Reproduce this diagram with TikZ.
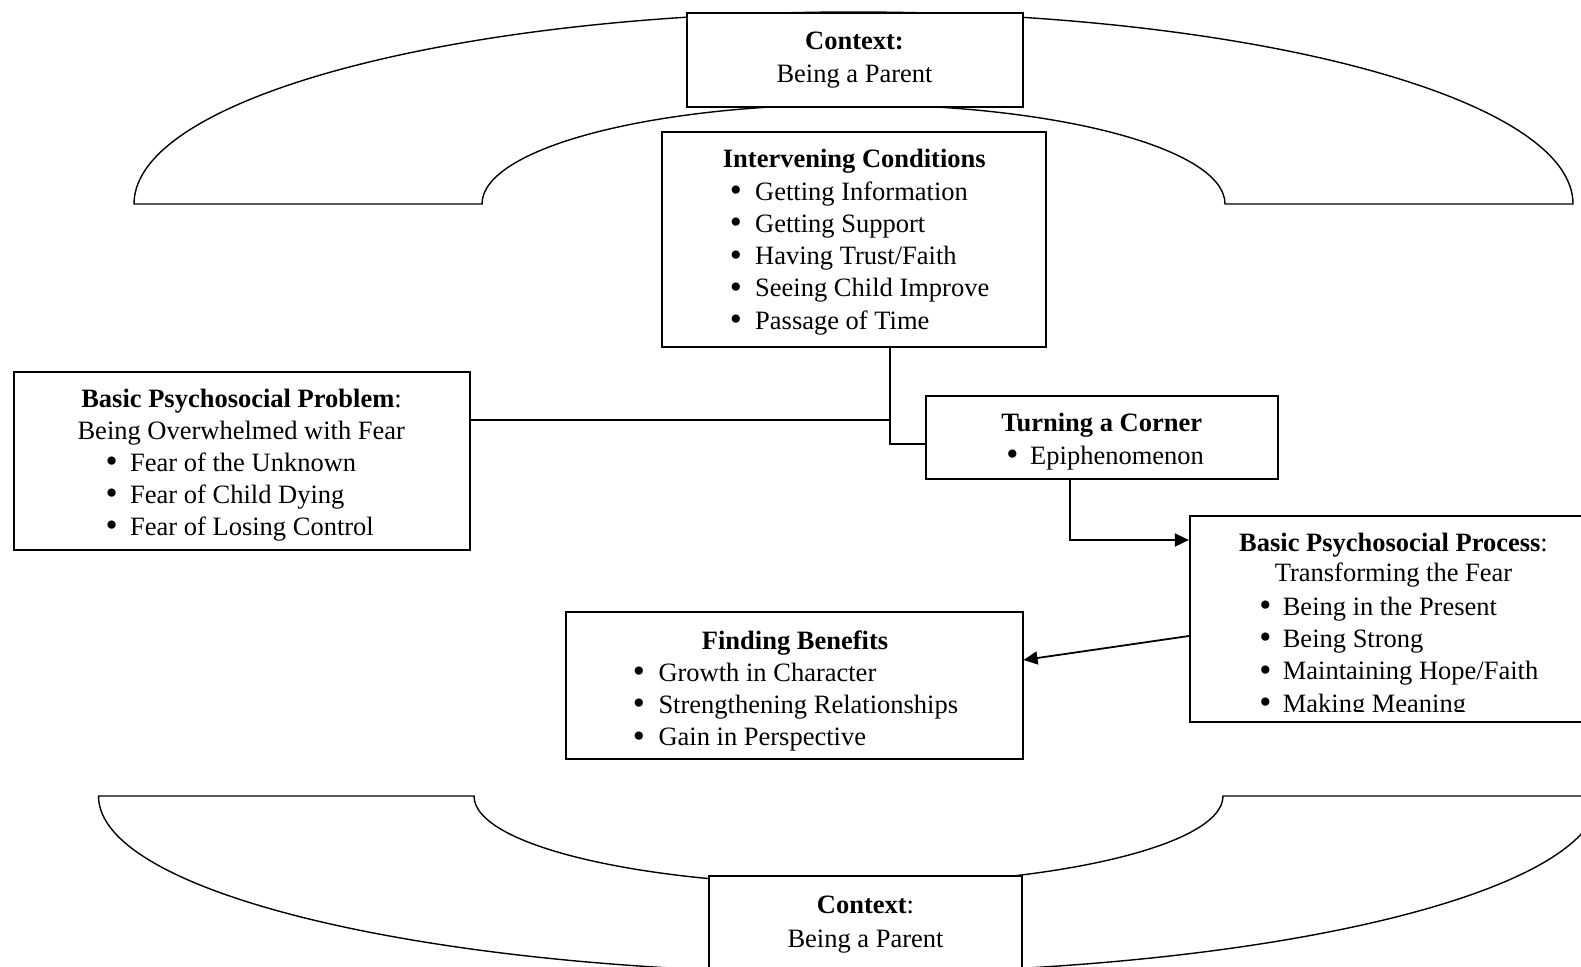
\documentclass[tikz,border=0pt]{standalone}
\usepackage{fontspec}
\setmainfont{Liberation Serif}
\usetikzlibrary{arrows.meta}
\newcommand{\bigbul}{\smash{\raisebox{-1.5pt}{\scalebox{1.3}{\textbullet}}}}
\begin{document}
\begin{tikzpicture}[x=1pt,y=-1pt,
  font=\fontsize{26.5}{32}\selectfont,
  box/.style={draw, line width=1.8pt, fill=white, rectangle, inner sep=0pt},
  lbl/.style={inner sep=0pt, anchor=base},
  itm/.style={inner sep=0pt, anchor=base west},
  conn/.style={line width=1.8pt},
  tip/.style={-{Triangle[length=14pt,width=13pt]}},
  band/.style={line width=1.4pt}]
\useasboundingbox (0,0) rectangle (1581,966);
\clip (0,0) rectangle (1581,966);

% context bands
\draw[band] (134,204) arc[start angle=180, end angle=360, x radius=719.5, y radius=192]
  -- (1225,204) arc[start angle=0, end angle=-180, x radius=371.5, y radius=99.5] -- cycle;
\draw[band] (98.5,796) arc[start angle=180, end angle=0, x radius=750, y radius=177]
  -- (1223,796) arc[start angle=0, end angle=180, x radius=374.5, y radius=89] -- cycle;

% boxes
\node[box, minimum width=336.3pt, minimum height=93.7pt] (ctxTop) at (854.8,60.2) {};
\node[box, minimum width=383.4pt, minimum height=214.7pt] (ic) at (854,239.7) {};
\node[box, minimum width=456pt, minimum height=177.7pt] (bpp) at (242,461.2) {};
\node[box, minimum width=352.3pt, minimum height=83pt] (tac) at (1102.2,437.5) {};
\node[box, minimum width=405.3pt, minimum height=206pt] (bpproc) at (1392.4,619) {};
\node[box, minimum width=456.7pt, minimum height=146.7pt] (fb) at (794.3,685.7) {};
\node[box, minimum width=313pt, minimum height=114.3pt] (ctxBot) at (865.8,932.8) {};

% top context text
\node[lbl] (ctxTopA) at (854.5,50) {\textbf{Context:}};
\node[lbl] (ctxTopB) at (854.5,82.7) {Being a Parent};

% intervening conditions
\node[lbl] (icT) at (854.3,167.7) {\textbf{Intervening Conditions}};
\node[lbl] (icB1) at (736,200) {\bigbul};
\node[itm] (icI1) at (755,200) {Getting Information};
\node[lbl] (icB2) at (736,232.3) {\bigbul};
\node[itm] (icI2) at (755,232.3) {Getting Support};
\node[lbl] (icB3) at (736,264.6) {\bigbul};
\node[itm] (icI3) at (755,264.6) {Having Trust/Faith};
\node[lbl] (icB4) at (736,296.9) {\bigbul};
\node[itm] (icI4) at (755,296.9) {Seeing Child Improve};
\node[lbl] (icB5) at (736,329.2) {\bigbul};
\node[itm] (icI5) at (755,329.2) {Passage of Time};

% basic psychosocial problem
\node[lbl] (bppT) at (241.5,407.3) {\textbf{Basic Psychosocial Problem}:};
\node[lbl] (bppS) at (241.3,439) {Being Overwhelmed with Fear};
\node[lbl] (bppB1) at (111.7,471) {\bigbul};
\node[itm] (bppI1) at (130,471) {Fear of the Unknown};
\node[lbl] (bppB2) at (111.7,503) {\bigbul};
\node[itm] (bppI2) at (130,503) {Fear of Child Dying};
\node[lbl] (bppB3) at (111.7,535) {\bigbul};
\node[itm] (bppI3) at (130,535) {Fear of Losing Control};

% turning a corner
\node[lbl] (tacT) at (1101.7,431.7) {\textbf{Turning a Corner}};
\node[lbl] (tacB1) at (1012.3,464) {\bigbul};
\node[itm] (tacI1) at (1030,464) {Epiphenomenon};

% basic psychosocial process
\node[lbl] (bprT) at (1393.5,551.7) {\textbf{Basic Psychosocial Process}:};
\node[lbl] (bprS) at (1393.5,581.7) {Transforming the Fear};
\node[lbl] (bprB1) at (1265.5,615) {\bigbul};
\node[itm] (bprI1) at (1282.6,615) {Being in the Present};
\node[lbl] (bprB2) at (1265.5,647.3) {\bigbul};
\node[itm] (bprI2) at (1282.6,647.3) {Being Strong};
\node[lbl] (bprB3) at (1265.5,679.6) {\bigbul};
\node[itm] (bprI3) at (1282.6,679.6) {Maintaining Hope/Faith};
\begin{scope}
\clip (1150,690) rectangle (1600,711);
\node[lbl] (bprB4) at (1265.5,712) {\bigbul};
\node[itm] (bprI4) at (1282.6,712) {Making Meaning};
\end{scope}

% finding benefits
\node[lbl] (fbT) at (795,649.3) {\textbf{Finding Benefits}};
\node[lbl] (fbB1) at (639,681) {\bigbul};
\node[itm] (fbI1) at (658.3,681) {Growth in Character};
\node[lbl] (fbB2) at (639,713.3) {\bigbul};
\node[itm] (fbI2) at (658.3,713.3) {Strengthening Relationships};
\node[lbl] (fbB3) at (639,745.6) {\bigbul};
\node[itm] (fbI3) at (658.3,745.6) {Gain in Perspective};

% bottom context text
\node[lbl] (ctxBotA) at (865.5,913.3) {\textbf{Context}:};
\node[lbl] (ctxBotB) at (865.5,947.3) {Being a Parent};

% connectors
\coordinate (j1) at (890,420);
\coordinate (j2) at (890,444);
\coordinate (j3) at (1070,540);
\coordinate (a4) at (1190,636);
\coordinate (a5) at (1022.7,660);
\draw[conn] (bpp.east |- j1) -- (j1);
\draw[conn] (ic.south -| j2) -- (j2) -- (tac.west |- j2);
\draw[conn, tip] (tac.south -| j3) -- (j3) -- (bpproc.west |- j3);
\draw[conn, tip] (bpproc.west |- a4) -- (fb.east |- a5);
\end{tikzpicture}
\end{document}
